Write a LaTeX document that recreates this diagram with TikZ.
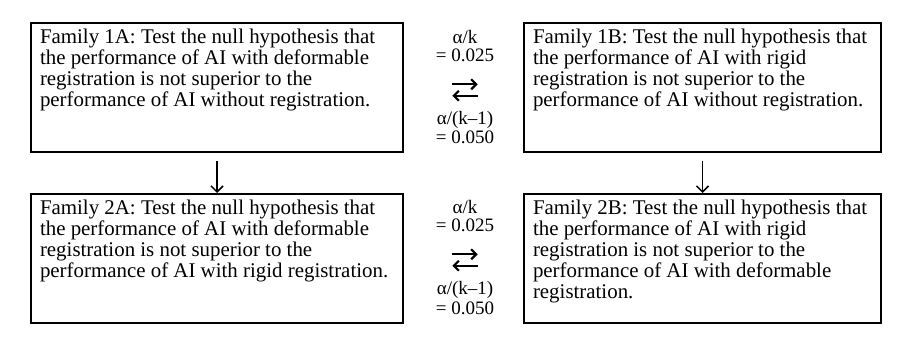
\documentclass[tikz,border=0pt]{standalone}
\usepackage{fontspec}
\setmainfont{Liberation Serif}
\usepackage{tikz}
\usetikzlibrary{
  arrows.meta,
  positioning
}
\newcommand{\famtext}[2]{\parbox[c][117pt][t]{#1}{\raggedright #2}}

\begin{document}
\begin{tikzpicture}[
  x=1pt, y=-1pt,
  font=\fontsize{20.9}{20.9}\selectfont,
  family/.style={draw, line width=2pt, anchor=north west, inner xsep=9pt,
                 inner ysep=6pt, minimum width=#1, minimum height=129pt},
  lbl/.style={anchor=base, inner sep=0pt, font=\fontsize{19}{19}\selectfont},
  swap/.style={inner sep=0pt, minimum width=25pt, minimum height=11pt},
  swarr/.style={-{Straight Barb[length=5pt, width=10pt]}, line width=2.2pt},
  down/.style={-{Straight Barb[length=6pt, width=12pt]}, line width=1.5pt,
               shorten <=8pt},
]
  \useasboundingbox (0,0) rectangle (904,344);

  % Families A
  \node[family=372pt] (F1A) at (30,22) {\famtext{354pt}{Family 1A: Test the null hypothesis that\\
    the performance of AI with deformable\\
    registration is not superior to the\\
    performance of AI without registration.}};
  \node[family=372pt] (F2A) at (30,193) {\famtext{354pt}{Family 2A: Test the null hypothesis that\\
    the performance of AI with deformable\\
    registration is not superior to the\\
    performance of AI with rigid registration.}};

  % Families B
  \node[family=357pt] (F1B) at (523,22) {\famtext{339pt}{Family 1B: Test the null hypothesis that\\
    the performance of AI with rigid\\
    registration is not superior to the\\
    performance of AI without registration.}};
  \node[family=357pt] (F2B) at (523,193) {\famtext{339pt}{Family 2B: Test the null hypothesis that\\
    the performance of AI with rigid\\
    registration is not superior to the\\
    performance of AI with deformable\\
    registration.}};

  % alpha switching between A and B
  \foreach \r/\y in {1/90, 2/260} {
    \node[swap] (sw\r) at (465,\y) {};
    \draw[swarr] (sw\r.north west) -- (sw\r.north east);
    \draw[swarr] (sw\r.south east) -- (sw\r.south west);
    \node[lbl] (ak\r) at (465,{\y-46}) {α/k};
    \node[lbl] (av\r) at (465,{\y-28}) {= 0.025};
    \node[lbl] (am\r) at (465,{\y+35}) {α/(k–1)};
    \node[lbl] (aw\r) at (465,{\y+54}) {= 0.050};
  }

  \draw[down] (F1A.south) -- (F2A.north);
  \draw[down] (F1B.south) -- (F2B.north);
\end{tikzpicture}
\end{document}
